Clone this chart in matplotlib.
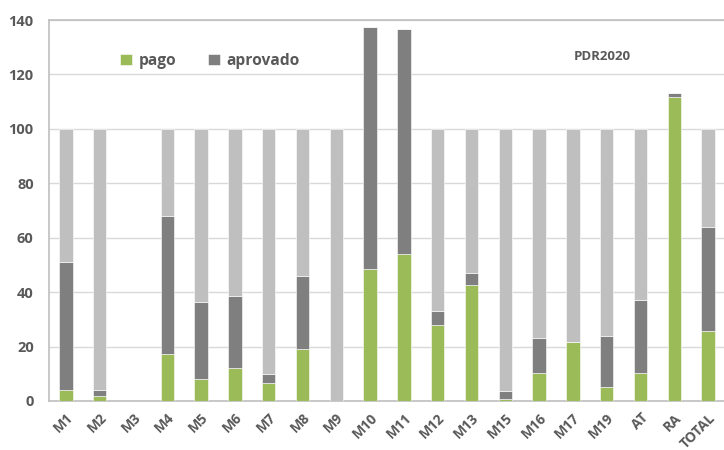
import numpy as np
import matplotlib.pyplot as plt

plt.rcParams['font.family'] = ['Open Sans', 'DejaVu Sans']

# dados
medidas = ['M1', 'M2', 'M3', 'M4', 'M5', 'M6', 'M7', 'M8', 'M9', 'M10',
           'M11', 'M12', 'M13', 'M15', 'M16', 'M17', 'M19', 'AT', 'RA', 'TOTAL']
pago = [4, 2, 0, 17.3, 8.1, 12.1, 6.6, 19.1, 0, 48.5,
        54, 28.1, 42.6, 0.9, 10.4, 21.8, 5.1, 10.4, 111.8, 25.7]
aprovado = [51, 4, 0, 68, 36.4, 38.4, 10.1, 46.1, 0, 137.3,
            136.6, 33.2, 46.9, 3.6, 23.2, 21.8, 24, 37, 113.2, 63.8]
programado = [100, 100, 0, 100, 100, 100, 100, 100, 100, 100,
              100, 100, 100, 100, 100, 100, 100, 100, 100, 100]

pago = np.array(pago)
aprovado = np.array(aprovado)
programado = np.array(programado)
so_aprovado = aprovado - pago
restante = np.clip(programado - aprovado, 0, None)

VERDE = '#9BBB59'
CINZA = '#7F7F7F'
CLARO = '#BFBFBF'
TEXTO = '#595959'

fig = plt.figure(figsize=(7.24, 4.5), dpi=100)
ax = fig.add_axes([49 / 724, 1 - 401 / 450, 676 / 724, 381 / 450])

x = np.arange(len(medidas))
w = 0.4
ax.bar(x, pago, w, color=VERDE, edgecolor='white', linewidth=0.4, label='pago', zorder=3)
ax.bar(x, so_aprovado, w, bottom=pago, color=CINZA, edgecolor='white', linewidth=0.4,
       label='aprovado', zorder=3)
ax.bar(x, restante, w, bottom=aprovado, color=CLARO, edgecolor='white', linewidth=0.4, zorder=3)

ax.set_xlim(-0.5, len(medidas) - 0.5)
ax.set_ylim(0, 140)
ax.set_yticks(range(0, 141, 20))
ax.yaxis.grid(True, color='#D9D9D9', linewidth=1, zorder=0)
ax.set_axisbelow(True)

for s in ax.spines.values():
    s.set_color('#BFBFBF')
    s.set_linewidth(1.2)

ax.tick_params(axis='both', length=0, colors=TEXTO, labelsize=10.5)
ax.tick_params(axis='y', pad=11)
ax.tick_params(axis='x', pad=7, labelsize=10)
ax.set_xticks(x)
ax.set_xticklabels(medidas, rotation=45, ha='right', rotation_mode='anchor', fontweight='bold')
for t in ax.get_yticklabels():
    t.set_fontweight('bold')

ax.legend(loc='upper left', bbox_to_anchor=(0.085, 0.95), ncol=2, frameon=False,
          handlelength=0.75, handleheight=0.75, handletextpad=0.45,
          columnspacing=2.0, labelcolor=TEXTO, prop={'weight': 'bold', 'size': 11.2})

fig.text(602 / 724, 1 - 56 / 450, 'PDR2020', fontsize=9.5, fontweight='bold', color=TEXTO,
         ha='center', va='center')

fig.savefig('out.png', dpi=100)
